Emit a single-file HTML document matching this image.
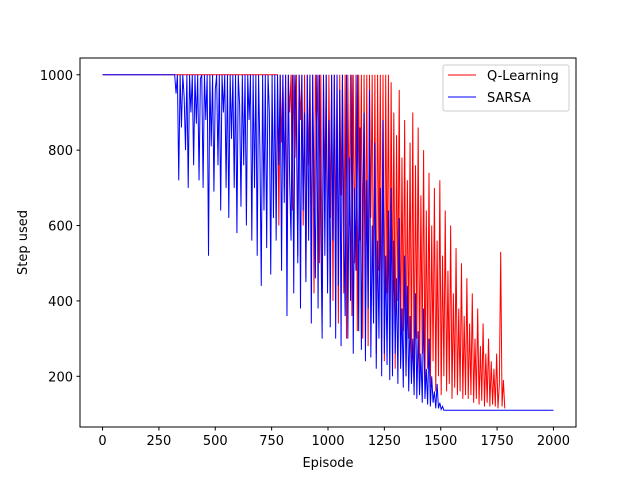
<!DOCTYPE html>
<html><head><meta charset="utf-8"><style>
body{margin:0;background:#fff}
svg text{font-family:"DejaVu Sans","Liberation Sans",sans-serif;font-size:13px;fill:#000}
</style></head><body>
<svg id="chart" width="640" height="480" xmlns="http://www.w3.org/2000/svg">
<rect width="640" height="480" fill="#fff"/>
<g id="plot"></g>
<g id="axes"></g>
</svg>
<script>
const xTicks=[0,250,500,750,1000,1250,1500,1750,2000];
const yTicks=[200,400,600,800,1000];
const sarsaStart=320, sarsaStep=6, sarsaFirst=1000, sarsaLastEpisode=2000, sarsaLast=110;
const sarsaValues=[
1000,950,1000,720,1000,860,1000,940,800,1000,700,1000,900,1000,760,1000,870,1000,720,990,
1000,700,1000,880,1000,520,1000,810,1000,690,960,1000,760,1000,640,1000,900,1000,700,1000,
620,1000,830,1000,700,1000,580,1000,920,650,1000,760,1000,600,1000,880,1000,560,1000,700,
1000,520,1000,800,440,1000,640,1000,540,1000,900,470,1000,620,1000,560,1000,760,1000,480,
1000,660,1000,360,1000,720,560,1000,420,1000,860,500,1000,380,1000,640,900,450,1000,560,
1000,340,1000,700,460,1000,380,1000,600,300,1000,520,1000,420,880,330,1000,560,1000,300,
1000,440,960,280,1000,620,360,1000,300,780,400,1000,260,700,480,1000,320,860,270,640,
900,240,720,380,960,250,600,340,820,220,560,300,700,200,880,260,520,230,640,190,
700,200,560,260,460,180,620,220,380,170,520,200,440,160,360,180,300,150,420,140,
320,150,260,130,380,140,220,125,300,120,200,130,160,115,180,115,130,112,120,110];
const qStart=776, qStep=6, qFirst=1000;
const qValues=[
1000,600,1000,820,1000,700,1000,560,1000,900,1000,640,1000,780,1000,520,1000,880,1000,600,
1000,460,1000,760,1000,520,1000,420,1000,840,1000,500,1000,380,1000,700,1000,440,1000,620,
1000,400,1000,560,1000,340,1000,680,1000,420,1000,300,1000,600,1000,360,1000,500,1000,320,
1000,560,1000,300,1000,460,1000,280,1000,620,1000,340,1000,260,1000,480,1000,300,1000,240,
1000,420,1000,260,980,360,900,220,840,400,960,240,780,320,880,200,720,300,820,220,
900,180,760,300,860,200,680,260,800,180,640,220,740,170,600,240,700,160,560,200,
720,150,520,200,640,160,480,180,600,140,420,170,540,150,380,160,500,140,360,150,
460,140,340,150,420,130,300,140,380,125,280,135,340,120,260,130,300,120,240,125,
220,120,260,115,180,530,120,190,115];

const L=80,R=576,T=58,B=427;
const xs=v=>L+(v+100)/2200*(R-L);
const ys=v=>B-(v-65.5)/(1044.5-65.5)*(B-T);
const NS="http://www.w3.org/2000/svg";
function mk(tag,attrs,parent){const e=document.createElementNS(NS,tag);for(const k in attrs)e.setAttribute(k,attrs[k]);parent.appendChild(e);return e;}
const plot=document.getElementById('plot'), axes=document.getElementById('axes');

function series(start,step,vals,first,lastEp,last){
  const pts=[[0,first]];
  vals.forEach((v,i)=>pts.push([start+i*step,v]));
  if(lastEp!==undefined)pts.push([lastEp,last]);
  return pts.map(p=>xs(p[0]).toFixed(2)+','+ys(p[1]).toFixed(2)).join(' ');
}
const q=mk('polyline',{points:series(qStart,qStep,qValues,qFirst),fill:'none',stroke:'#ff0000','stroke-width':1},plot);


const s=mk('polyline',{points:series(sarsaStart,sarsaStep,sarsaValues,sarsaFirst,sarsaLastEpisode,sarsaLast),fill:'none',stroke:'#0000ff','stroke-width':1},plot);



const frame=mk('rect',{x:L,y:T,width:R-L,height:B-T,fill:'none',stroke:'#000','stroke-width':1},axes);


xTicks.forEach(t=>{
  const x=xs(t);
  mk('line',{x1:x,x2:x,y1:B,y2:B+3.5,stroke:'#000'},axes);
  const tx=mk('text',{x:x,y:B+18,'text-anchor':'middle'},axes);tx.textContent=t;
  
  
});
yTicks.forEach(t=>{
  const y=ys(t);
  mk('line',{x1:L-3.5,x2:L,y1:y,y2:y,stroke:'#000'},axes);
  const tx=mk('text',{x:L-7,y:y+5,'text-anchor':'end'},axes);tx.textContent=t;
  
  
});
const xl=mk('text',{x:(L+R)/2,y:467,'text-anchor':'middle'},axes);xl.textContent='Episode';


const yl=mk('text',{x:0,y:0,'text-anchor':'middle',transform:'translate(27,'+((T+B)/2)+') rotate(-90)'},axes);yl.textContent='Step used';



const lg=mk('g',{},axes);


mk('rect',{x:443,y:65,width:126,height:46,rx:2,fill:'#fff','fill-opacity':0.8,stroke:'#ccc'},lg);
[['Q-Learning','#ff0000',75],['SARSA','#0000ff',97]].forEach(e=>{
  mk('line',{x1:448,x2:476,y1:e[2],y2:e[2],stroke:e[1],'stroke-width':1},lg);
  const t=mk('text',{x:487,y:e[2]+5},lg);t.textContent=e[0];
  
  
});
</script>
</body></html>
